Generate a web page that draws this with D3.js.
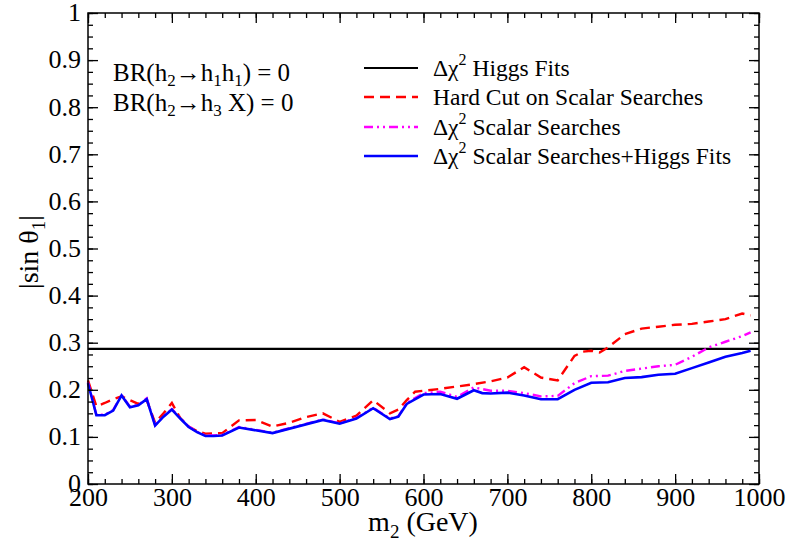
<!DOCTYPE html>
<html><head><meta charset="utf-8">
<script src="https://cdn.jsdelivr.net/npm/d3@7"></script>
<style>body{margin:0;background:#fff}svg text{font-family:"Liberation Serif","DejaVu Serif",serif !important;fill:#000}</style>
</head><body><svg id="c" width="788" height="544"></svg>
<script>
const xTicks=[200,300,400,500,600,700,800,900,1000];
const yTicks=[0,0.1,0.2,0.3,0.4,0.5,0.6,0.7,0.8,0.9,1];
const higgsM=[200,1000];
const higgsV=[0.287,0.287];
const hardM=[200,210,220,230,240,250,260,270,280,290,300,310,320,330,340,360,380,400,420,440,460,480,500,520,540,560,570,580,590,600,620,640,660,680,700,720,740,760,780,790,800,810,820,840,860,880,900,920,940,960,980,990];
const hardV=[0.22,0.165,0.172,0.18,0.186,0.178,0.17,0.178,0.13,0.15,0.172,0.14,0.122,0.112,0.107,0.108,0.135,0.136,0.122,0.13,0.142,0.15,0.132,0.145,0.178,0.15,0.158,0.178,0.196,0.198,0.202,0.207,0.212,0.218,0.226,0.248,0.226,0.22,0.272,0.281,0.283,0.279,0.29,0.318,0.33,0.334,0.338,0.34,0.345,0.35,0.362,0.358];
const scalM=[200,210,220,230,240,250,260,270,280,290,300,310,320,330,340,350,360,380,420,480,500,520,540,560,570,580,600,620,640,660,680,700,720,740,760,780,800,820,840,860,880,900,920,940,960,980,990];
const scalV=[0.216,0.147,0.147,0.157,0.189,0.164,0.168,0.182,0.125,0.144,0.159,0.14,0.122,0.111,0.103,0.103,0.104,0.121,0.109,0.137,0.129,0.14,0.162,0.139,0.144,0.172,0.193,0.196,0.185,0.205,0.198,0.198,0.193,0.186,0.187,0.214,0.229,0.23,0.24,0.245,0.25,0.253,0.27,0.29,0.302,0.314,0.322];
const combM=[200,210,220,230,240,250,260,270,280,290,300,310,320,330,340,350,360,380,420,480,500,520,540,560,570,580,600,620,640,660,670,680,700,720,740,760,780,800,820,840,860,880,900,920,940,960,980,990];
const combV=[0.214,0.146,0.146,0.156,0.188,0.163,0.167,0.18,0.124,0.143,0.158,0.139,0.121,0.11,0.102,0.102,0.103,0.12,0.108,0.136,0.128,0.139,0.161,0.138,0.143,0.17,0.19,0.191,0.181,0.199,0.193,0.192,0.194,0.188,0.18,0.18,0.2,0.215,0.216,0.225,0.227,0.232,0.234,0.246,0.258,0.27,0.278,0.283];
const legendLabels=["Higgs Fits","Hard Cut on Scalar Searches","Scalar Searches","Scalar Searches+Higgs Fits"];

const FONT='"Liberation Serif","DejaVu Serif",serif';
const svg=d3.select("#c");
const L=88,R=759,T=13,B=484;
const x=d3.scaleLinear().domain([200,1000]).range([L,R]);
const y=d3.scaleLinear().domain([0,1]).range([B,T]);

const line=d3.line().x(d=>x(d[0])).y(d=>y(d[1]));
const series=[
 {m:higgsM,v:higgsV,color:"#000",dash:null,w:2.2},
 {m:hardM,v:hardV,color:"#ff0000",dash:"10,6",w:2.4},
 {m:scalM,v:scalV,color:"#ff00ff",dash:"9,4,2,4,2,4",w:2.4},
 {m:combM,v:combV,color:"#0000ff",dash:null,w:2.6}
];
const g=svg.append("g");
series.forEach(s=>{
 g.append("path").attr("d",line(s.m.map((m,i)=>[m,s.v[i]]))).attr("fill","none")
  .attr("stroke",s.color).attr("stroke-width",s.w).attr("stroke-dasharray",s.dash);
});

const xMinor=d3.range(200,1001,20), yMinor=d3.range(0,1.0001,0.025);
function ax(axisGen,tr,labels){
 const a=svg.append("g").attr("transform",tr).call(axisGen).attr("font-family",FONT);
 a.select(".domain").remove();
 a.selectAll("line").attr("stroke","#000").attr("stroke-width",1.3);
 if(!labels) a.selectAll("text").remove();
 return a;
}
ax(d3.axisBottom(x).tickValues(xMinor).tickSize(-5).tickFormat(""),`translate(0,${B})`,false);
ax(d3.axisTop(x).tickValues(xMinor).tickSize(-5).tickFormat(""),`translate(0,${T})`,false);
ax(d3.axisLeft(y).tickValues(yMinor).tickSize(-5).tickFormat(""),`translate(${L},0)`,false);
ax(d3.axisRight(y).tickValues(yMinor).tickSize(-5).tickFormat(""),`translate(${R},0)`,false);
const xb=ax(d3.axisBottom(x).tickValues(xTicks).tickSize(-10).tickPadding(3).tickFormat(d3.format("d")),`translate(0,${B})`,true);
xb.selectAll("text").attr("font-size",26).attr("dy","0.72em");
ax(d3.axisTop(x).tickValues(xTicks).tickSize(-10).tickFormat(""),`translate(0,${T})`,false);
const yl=ax(d3.axisLeft(y).tickValues(yTicks).tickSize(-10).tickPadding(7).tickFormat(d=>d===0?"0":d===1?"1":d3.format(".1f")(d)),`translate(${L},0)`,true);
yl.selectAll("text").attr("font-size",26).attr("dy","0.3em");
ax(d3.axisRight(y).tickValues(yTicks).tickSize(-10).tickFormat(""),`translate(${R},0)`,false);
svg.append("rect").attr("x",L).attr("y",T).attr("width",R-L).attr("height",B-T)
 .attr("fill","none").attr("stroke","#000").attr("stroke-width",1.5);

const xt=svg.append("text").attr("x",423).attr("y",531).attr("text-anchor","middle").attr("font-size",28);
xt.append("tspan").text("m");
xt.append("tspan").attr("font-size",19).attr("dy",7).text("2");
xt.append("tspan").attr("dy",-7).text(" (GeV)");
const yt=svg.append("text").attr("transform","translate(38,252) rotate(-90)").attr("text-anchor","middle").attr("font-size",28);
yt.append("tspan").text("|sin θ");
yt.append("tspan").attr("font-size",19).attr("dy",7).text("1");
yt.append("tspan").attr("dy",-7).text("|");

function br(yy,parts){
 const t=svg.append("text").attr("x",113).attr("y",yy).attr("font-size",25);
 parts.forEach(p=>{
  if(p[1]) t.append("tspan").attr("font-size",17).attr("dy",5).text(p[0]);
  else t.append("tspan").attr("dy",p[2]||0).text(p[0]);
 });
}
br(81,[["BR(h"],["2",1],["→h",0,-5],["1",1],["h",0,-5],["1",1],[") = 0",0,-5]]);
br(111,[["BR(h"],["2",1],["→h",0,-5],["3",1],[" X) = 0",0,-5]]);

const ly=[68,97,127,156];
series.forEach((s,i)=>{
 svg.append("line").attr("x1",364).attr("x2",418).attr("y1",ly[i]).attr("y2",ly[i])
  .attr("stroke",s.color).attr("stroke-width",s.w).attr("stroke-dasharray",s.dash);
 const t=svg.append("text").attr("x",433).attr("y",ly[i]+8).attr("font-size",23.5);
 if(i!==1){
  t.append("tspan").text("Δχ");
  t.append("tspan").attr("font-size",16).attr("dy",-11).text("2");
  t.append("tspan").attr("dy",11).text(" "+legendLabels[i]);
 } else t.text(legendLabels[i]);
});
</script></body></html>
